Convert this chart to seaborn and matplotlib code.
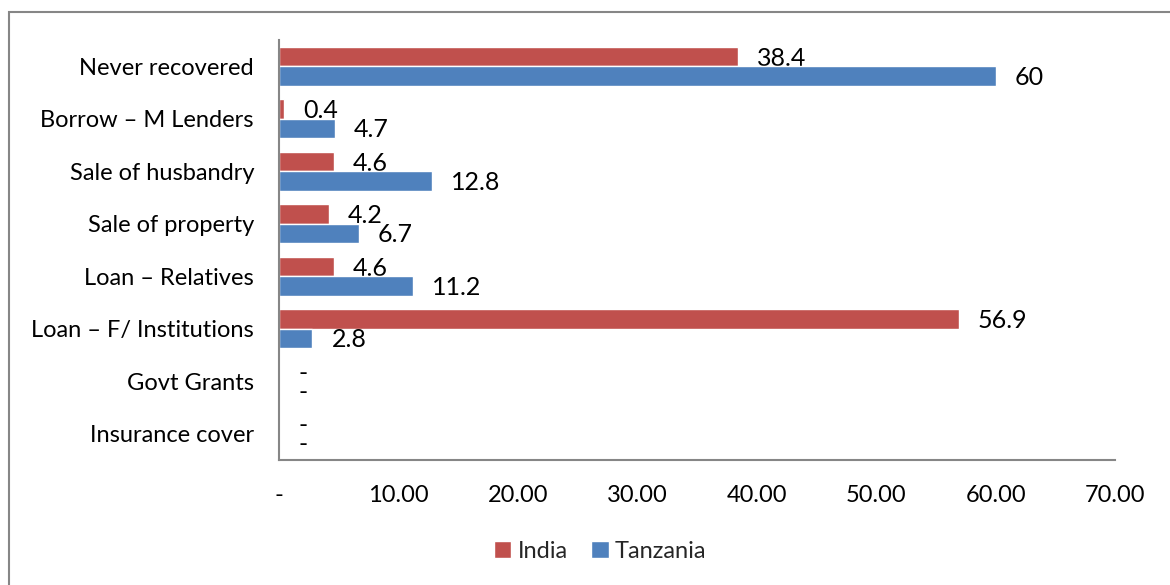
import matplotlib
matplotlib.use("Agg")
import matplotlib.pyplot as plt
import matplotlib.patches as mpatches
from matplotlib.ticker import FuncFormatter
import seaborn as sns
import pandas as pd

# Coping mechanisms after loss, by country
categories = [
    "Never recovered",
    "Borrow \u2013 M Lenders",
    "Sale of husbandry",
    "Sale of property",
    "Loan \u2013 Relatives",
    "Loan \u2013 F/ Institutions",
    "Govt Grants",
    "Insurance cover",
]
india = [38.4, 0.4, 4.6, 4.2, 4.6, 56.9, 0.0, 0.0]
tanzania = [60.0, 4.7, 12.8, 6.7, 11.2, 2.8, 0.0, 0.0]
series_names = ["India", "Tanzania"]
x_ticks = [0, 10, 20, 30, 40, 50, 60, 70]

colors = {"India": "#C0504D", "Tanzania": "#4F81BD"}

df = pd.DataFrame({
    "Category": categories * 2,
    "Country": [series_names[0]] * len(categories) + [series_names[1]] * len(categories),
    "Value": india + tanzania,
})

sns.set_theme(style="white")
plt.rcParams["font.family"] = ["Lato", "DejaVu Sans"]

fig = plt.figure(figsize=(11.7, 5.85), dpi=100)
ax = fig.add_axes([279 / 1170, 1 - 460 / 585, (1115 - 279) / 1170, 420 / 585])

sns.barplot(
    data=df, y="Category", x="Value", hue="Country", order=categories,
    hue_order=series_names, palette=colors, orient="h", width=0.74,
    saturation=1, ax=ax, legend=True,
)

ax.set_xlim(0, 70)
ax.set_ylim(len(categories) - 0.5, -0.5)
ax.set_xticks(x_ticks)
ax.xaxis.set_major_formatter(FuncFormatter(lambda v, p: "-" if v == 0 else f"{v:.2f}"))
ax.set_xlabel("")
ax.set_ylabel("")
ax.tick_params(axis="x", length=0, pad=18, labelsize=17, colors="black")
ax.tick_params(axis="y", length=0, pad=18, labelsize=17, colors="black")

for side in ["top", "right"]:
    ax.spines[side].set_visible(False)
for side in ["left", "bottom"]:
    ax.spines[side].set_color("#868686")
    ax.spines[side].set_linewidth(1.5)

# Value labels at the end of each bar; India labels sit beneath the Tanzania bars
for container, name in zip(ax.containers, series_names):
    labels = ["-" if b.get_width() == 0 else f"{b.get_width():g}" for b in container]
    z = 0.9 if name == "India" else 3
    for bar, lab in zip(container, labels):
        y = bar.get_y() + bar.get_height() / 2
        ax.annotate(lab, (bar.get_width(), y), xytext=(19, -9),
                    textcoords="offset pixels", ha="left", va="baseline",
                    fontsize=18, color="black", zorder=z)

handles, labels = ax.get_legend_handles_labels()
ax.legend(handles, labels, loc="center", bbox_to_anchor=(600 / 1170, 1 - 551 / 585),
          bbox_transform=fig.transFigure, ncol=2, frameon=False, fontsize=17,
          handlelength=0.75, handleheight=0.75, handletextpad=0.25, columnspacing=1.0)

# Chart area border
fig.patches.append(mpatches.Rectangle(
    (9 / 1170, -0.1), 1.2, 1 - 12 / 585 + 0.1, transform=fig.transFigure,
    fill=False, edgecolor="#868686", linewidth=1.5, clip_on=False))

fig.savefig("out.png", dpi=100)
